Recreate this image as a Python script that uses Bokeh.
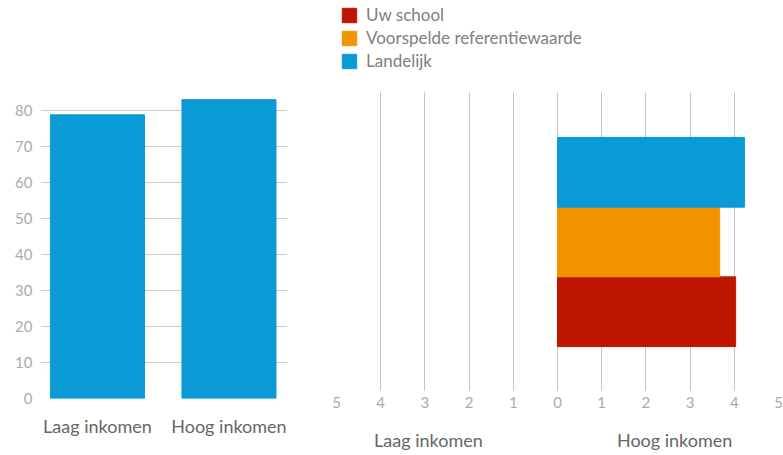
from bokeh.plotting import figure
from bokeh.layouts import row
from bokeh.models import Range1d, FixedTicker, LinearAxis, Legend, LegendItem, BoxAnnotation
from bokeh.embed import file_html
from bokeh.resources import INLINE

# ---- data ----
categories = ["Laag inkomen", "Hoog inkomen"]
left_values = [78.8, 83.0]
left_ticks = [0, 10, 20, 30, 40, 50, 60, 70, 80]

series = ["Uw school", "Voorspelde referentiewaarde", "Landelijk"]
series_colors = ["#BE1500", "#F29400", "#0A9AD6"]
hoog_values = [4.03, 3.67, 4.23]
right_ticks = [-5, -4, -3, -2, -1, 0, 1, 2, 3, 4, 5]

FONT = "Lato"
TICK_COLOR = "#ababab"
CAT_COLOR = "#666666"
GRID_COLOR = "#cccccc"


def clean_axis(ax):
    ax.axis_line_color = None
    ax.major_tick_line_color = None
    ax.minor_tick_line_color = None
    ax.major_tick_out = 0
    ax.major_tick_in = 0
    ax.minor_tick_out = 0
    ax.minor_tick_in = 0


# ---- left panel ----
xs = list(range(len(categories)))
p1 = figure(width=300, height=455, x_range=Range1d(-0.433, 1.445), y_range=Range1d(0, 110.56),
            output_backend="svg", toolbar_location=None,
            min_border_left=40, min_border_right=13, min_border_top=0, min_border_bottom=57)
p1.vbar(x=xs, top=left_values, width=0.715, color="#0A9AD6")
p1.outline_line_color = None
p1.xgrid.visible = False
p1.ygrid.ticker = FixedTicker(ticks=left_ticks)
p1.ygrid.grid_line_color = GRID_COLOR
p1.yaxis.ticker = FixedTicker(ticks=left_ticks)
clean_axis(p1.yaxis[0])
p1.yaxis.major_label_standoff = 8
p1.yaxis.major_label_text_font = FONT
p1.yaxis.major_label_text_font_size = "15px"
p1.yaxis.major_label_text_color = TICK_COLOR
p1.xaxis.ticker = FixedTicker(ticks=xs)
p1.xaxis.major_label_overrides = {i: c for i, c in zip(xs, categories)}
clean_axis(p1.xaxis[0])
p1.xaxis.major_label_standoff = 16
p1.xaxis.major_label_text_font = FONT
p1.xaxis.major_label_text_font_size = "18px"
p1.xaxis.major_label_text_color = CAT_COLOR

# ---- right panel ----
p2 = figure(width=483, height=455, x_range=Range1d(-5, 5), y_range=Range1d(-2.245, 3.465),
            output_backend="svg", toolbar_location=None,
            min_border_left=36, min_border_right=5, min_border_top=0, min_border_bottom=57)
p2.outline_line_color = None
p2.ygrid.visible = False
p2.yaxis.visible = False
p2.xgrid.ticker = FixedTicker(ticks=right_ticks)
p2.xgrid.grid_line_color = "#c4c4c4"

# limit the vertical extent of the grid lines (mask above and below the plotting band)
p2.add_layout(BoxAnnotation(bottom=2.145, fill_color="white", fill_alpha=1.0,
                            line_color=None, level="underlay"))
p2.add_layout(BoxAnnotation(top=-2.131, fill_color="white", fill_alpha=1.0,
                            line_color=None, level="underlay"))

ys = [-1, 0, 1]
renderers = []
for y, v, c in zip(ys, hoog_values, series_colors):
    r = p2.hbar(y=[y], left=[0], right=[v], height=1.0, color=c)
    renderers.append(r)

p2.xaxis.ticker = FixedTicker(ticks=right_ticks)
p2.xaxis.major_label_overrides = {t: str(abs(t)) for t in right_ticks}
clean_axis(p2.xaxis[0])
p2.xaxis.major_label_standoff = -2
p2.xaxis.major_label_text_font = FONT
p2.xaxis.major_label_text_font_size = "15px"
p2.xaxis.major_label_text_color = TICK_COLOR

cat_axis = LinearAxis(ticker=FixedTicker(ticks=[-2.92, 2.65]),
                      major_label_overrides={-2.92: categories[0], 2.65: categories[1]})
clean_axis(cat_axis)
cat_axis.major_label_standoff = 18
cat_axis.major_label_text_font = FONT
cat_axis.major_label_text_font_size = "18px"
cat_axis.major_label_text_color = CAT_COLOR
p2.add_layout(cat_axis, "below")

legend = Legend(items=[LegendItem(label=s, renderers=[r]) for s, r in zip(series, renderers)],
                location=(4, 327))
legend.glyph_width = 18
legend.glyph_height = 18
legend.label_height = 18
legend.spacing = 2
legend.padding = 0
legend.margin = 0
legend.label_standoff = 8
legend.border_line_color = None
legend.background_fill_alpha = 0
legend.label_text_font = FONT
legend.label_text_font_size = "17px"
legend.label_text_color = "#808080"
p2.add_layout(legend, "center")

layout = row(p1, p2)
open("out.html", "w").write(file_html(layout, INLINE))
